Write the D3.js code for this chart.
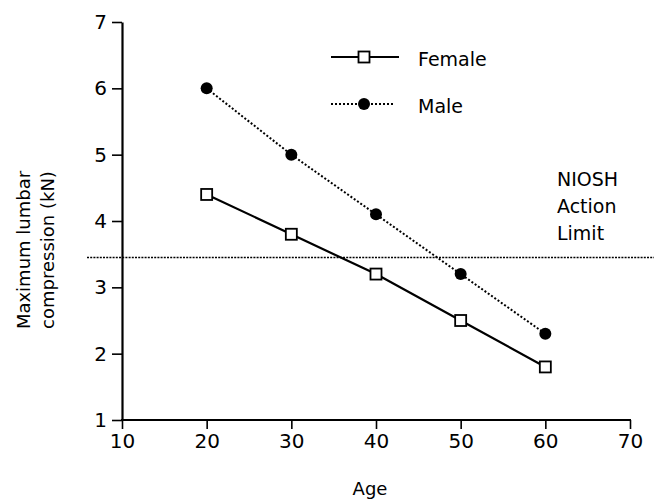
<!DOCTYPE html>
<html>
<head>
<meta charset="utf-8">
<script src="https://cdn.jsdelivr.net/npm/d3@7"></script>
<style>
body { margin: 0; background: #fff; }
text { font-family: "DejaVu Sans", sans-serif; fill: #000; }
</style>
</head>
<body>
<div id="chart"></div>
<script>
var svgWidth = 654;
var svgHeight = 500;

var ages = [20, 30, 40, 50, 60];
var female = [4.4, 3.8, 3.2, 2.5, 1.8];
var male = [6.0, 5.0, 4.1, 3.2, 2.3];
var nioshLimit = 3.45;
var xTicks = [10, 20, 30, 40, 50, 60, 70];
var yTicks = [1, 2, 3, 4, 5, 6, 7];
var seriesNames = ["Female", "Male"];
var limitLabel = ["NIOSH", "Action", "Limit"];

var svg = d3.select("#chart")
	.append("svg")
	.attr("width", svgWidth)
	.attr("height", svgHeight);

var x = d3.scaleLinear().domain([10, 70]).range([122, 630]);
var y = d3.scaleLinear().domain([1, 7]).range([420, 22]);

// axes
var xAxis = svg.append("g")
	.attr("transform", `translate(0, ${y(1)})`)
	.call(d3.axisBottom(x).tickValues(xTicks).tickFormat(d3.format("d"))
		.tickSize(9).tickPadding(5).tickSizeOuter(0));
var yAxis = svg.append("g")
	.attr("transform", `translate(${x(10)}, 0)`)
	.call(d3.axisLeft(y).tickValues(yTicks).tickFormat(d3.format("d"))
		.tickSize(10).tickPadding(5).tickSizeOuter(0));

[xAxis, yAxis].forEach(function(a) {
	a.select(".domain").attr("stroke-width", 2.2);
	a.selectAll(".tick line").attr("stroke-width", 1.6);
	a.selectAll(".tick text")
		.style("font-family", "DejaVu Sans")
		.style("font-size", "20px");
});
// extend domain line a touch so the corner closes
xAxis.select(".domain").attr("d", `M${x(10) - 1},0H${x(70) + 1}`);

// NIOSH action limit
svg.append("line")
	.attr("x1", 87)
	.attr("x2", svgWidth)
	.attr("y1", y(nioshLimit))
	.attr("y2", y(nioshLimit))
	.attr("stroke", "#000")
	.attr("stroke-width", 1.6)
	.attr("stroke-dasharray", "2,1.2");

svg.append("text")
	.attr("x", 557)
	.attr("y", 186)
	.style("font-size", "19px")
	.selectAll("tspan")
	.data(limitLabel)
	.enter()
	.append("tspan")
	.attr("x", 557)
	.attr("dy", (d, i) => i === 0 ? 0 : 27)
	.text(d => d);

var line = d3.line()
	.x((d, i) => x(ages[i]))
	.y(d => y(d));

// male: dotted line + filled circles
svg.append("path")
	.datum(male)
	.attr("d", line)
	.attr("fill", "none")
	.attr("stroke", "#000")
	.attr("stroke-width", 2)
	.attr("stroke-dasharray", "2,2");

svg.selectAll(".male-pt")
	.data(male)
	.enter()
	.append("circle")
	.attr("class", "male-pt")
	.attr("cx", (d, i) => x(ages[i]))
	.attr("cy", d => y(d))
	.attr("r", 6)
	.attr("fill", "#000");

// female: solid line + open squares
svg.append("path")
	.datum(female)
	.attr("d", line)
	.attr("fill", "none")
	.attr("stroke", "#000")
	.attr("stroke-width", 2.2);

svg.selectAll(".female-pt")
	.data(female)
	.enter()
	.append("rect")
	.attr("class", "female-pt")
	.attr("x", (d, i) => x(ages[i]) - 5.5)
	.attr("y", d => y(d) - 5.5)
	.attr("width", 11)
	.attr("height", 11)
	.attr("fill", "#fff")
	.attr("stroke", "#000")
	.attr("stroke-width", 1.8);

// legend
var legend = svg.append("g");
seriesNames.forEach(function(name, i) {
	var ly = 57 + i * 47;
	legend.append("line")
		.attr("x1", 331)
		.attr("x2", i === 0 ? 399 : 395)
		.attr("y1", ly)
		.attr("y2", ly)
		.attr("stroke", "#000")
		.attr("stroke-width", 2)
		.attr("stroke-dasharray", i === 0 ? null : "2,2");
	if (i === 0) {
		legend.append("rect")
			.attr("x", 364 - 5.5)
			.attr("y", ly - 5.5)
			.attr("width", 11)
			.attr("height", 11)
			.attr("fill", "#fff")
			.attr("stroke", "#000")
			.attr("stroke-width", 1.8);
	} else {
		legend.append("circle")
			.attr("cx", 364)
			.attr("cy", ly)
			.attr("r", 6)
			.attr("fill", "#000");
	}
	legend.append("text")
		.attr("x", 418)
		.attr("y", ly + 9)
		.style("font-size", "19px")
		.text(name);
});

// axis titles
svg.append("text")
	.attr("x", 370)
	.attr("y", 495)
	.attr("text-anchor", "middle")
	.style("font-size", "18px")
	.text("Age");

var yTitle = svg.append("text")
	.attr("transform", "translate(0, 250) rotate(-90)")
	.attr("text-anchor", "middle")
	.style("font-size", "18px");
yTitle.append("tspan").attr("x", 0).attr("y", 30).text("Maximum lumbar");
yTitle.append("tspan").attr("x", 0).attr("y", 54).text("compression (kN)");
</script>
</body>
</html>
